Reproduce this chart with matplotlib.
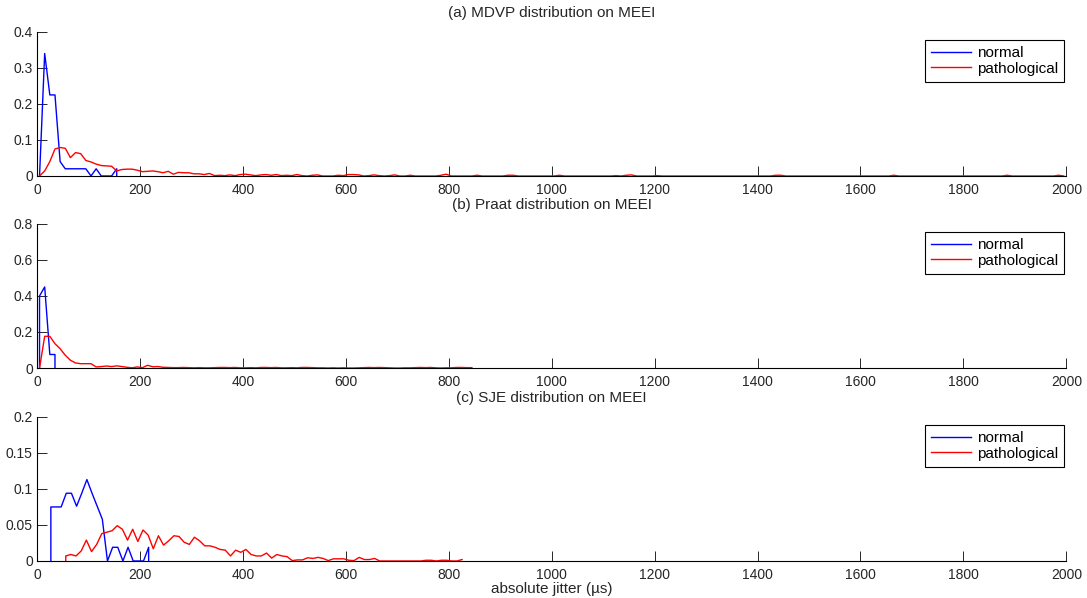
import numpy as np
import matplotlib.pyplot as plt

plt.rcParams['font.family'] = ['Liberation Sans', 'DejaVu Sans']
plt.rcParams['font.size'] = 10

# (a) MDVP - histogram bins of 10 us, centres at 5, 15, ...
mdvp_normal_x = [5, 15, 25, 35, 45, 55, 65, 75, 85, 95, 105, 115, 125, 135, 145, 155, 155]
mdvp_normal_y = [0, 0.34, 0.225, 0.225, 0.04, 0.02, 0.02, 0.02, 0.02, 0.02,
                 0, 0.02, 0, 0, 0, 0.02, 0]
mdvp_path_y = [
    0, 0.014, 0.04, 0.075, 0.079, 0.077, 0.051, 0.065, 0.062, 0.043,
    0.039, 0.033, 0.029, 0.028, 0.027, 0.014, 0.018, 0.019, 0.019, 0.016,
    0.012, 0.013, 0.014, 0.012, 0.009, 0.013, 0.005, 0.010, 0.009, 0.009,
    0.006, 0.006, 0.004, 0.007, 0.001, 0.002, 0.001, 0.003, 0.001, 0.004,
    0.005, 0.003, 0.001, 0.003, 0.004, 0.002, 0.004, 0.001, 0.002, 0.001,
    0.004, 0.001, 0, 0.002, 0.003, 0, 0, 0, 0.002, 0.001,
    0.004, 0.004, 0.003, 0, 0.001, 0.003, 0.001, 0, 0.001, 0.003,
    0, 0, 0.002, 0, 0, 0, 0, 0, 0.002, 0.005,
    0, 0, 0, 0, 0, 0.002, 0, 0, 0, 0,
    0, 0.002, 0.002, 0, 0, 0, 0, 0, 0, 0,
    0, 0.002, 0, 0, 0, 0, 0, 0, 0, 0,
    0, 0, 0.001, 0, 0.002, 0.003, 0, 0, 0, 0,
    0.001, 0, 0, 0, 0, 0, 0, 0, 0, 0,
    0, 0, 0, 0, 0, 0, 0, 0, 0, 0,
    0, 0, 0, 0.002, 0.002, 0, 0, 0, 0, 0,
    0, 0, 0, 0, 0, 0, 0, 0, 0, 0,
    0, 0, 0, 0, 0, 0, 0.002, 0, 0, 0,
    0, 0, 0, 0, 0, 0, 0, 0, 0, 0,
    0, 0, 0, 0, 0, 0, 0, 0, 0.002, 0,
    0, 0, 0, 0, 0, 0, 0, 0, 0.002, 0,
]
mdvp_path_x = np.arange(len(mdvp_path_y)) * 10 + 5

# (b) Praat
praat_normal_x = [5, 5, 15, 25, 35, 35]
praat_normal_y = [0, 0.40, 0.45, 0.075, 0.075, 0]
praat_path_y = [
    0, 0.176, 0.176, 0.135, 0.107, 0.071, 0.043, 0.028, 0.024, 0.024,
    0.024, 0.006, 0.008, 0.011, 0.008, 0.012, 0.008, 0.004, 0.001, 0.006,
    0.002, 0.015, 0.007, 0.008, 0.004, 0.003, 0.002, 0.002, 0.003, 0.002,
    0.001, 0.002, 0.001, 0.001, 0.002, 0.003, 0.003, 0.002, 0.003, 0.001,
    0.001, 0.002, 0.001, 0.003, 0.003, 0.002, 0.003, 0.001, 0.001, 0.002,
    0.001, 0.003, 0.003, 0.002, 0.001, 0.001, 0, 0.001, 0, 0.001,
    0, 0, 0.001, 0.002, 0.003, 0.002, 0.003, 0.002, 0.001, 0,
    0, 0.001, 0.001, 0.002, 0.003, 0.002, 0.003, 0.001, 0, 0.001,
    0.001, 0.003, 0.003, 0.002, 0.002,
]
praat_path_x = np.arange(len(praat_path_y)) * 10 + 5

# (c) SJE
sje_normal_x = [27, 27, 37, 47, 57, 67, 77, 87, 97, 107, 117, 127, 137, 147, 157,
                167, 177, 187, 197, 207, 217, 217]
sje_normal_y = [0, 0.075, 0.075, 0.075, 0.094, 0.094, 0.076, 0.094, 0.113, 0.094,
                0.076, 0.058, 0, 0.019, 0.019, 0, 0.019, 0, 0, 0, 0.019, 0]
sje_path_y = [
    0.007, 0.009, 0.007, 0.014, 0.029, 0.013, 0.023, 0.038, 0.040, 0.042,
    0.049, 0.044, 0.029, 0.044, 0.027, 0.043, 0.036, 0.017, 0.035, 0.022,
    0.028, 0.035, 0.034, 0.026, 0.023, 0.033, 0.028, 0.021, 0.021, 0.019,
    0.016, 0.015, 0.007, 0.015, 0.012, 0.016, 0.009, 0.007, 0.007, 0.011,
    0.004, 0.009, 0.007, 0.006, 0.0005, 0.0015, 0.0015, 0.0045, 0.0035, 0.005,
    0.0035, 0.0005, 0.003, 0.003, 0.003, 0.001, 0.0005, 0.005, 0.002, 0.002,
    0.0035, 0, 0, 0, 0, 0, 0, 0, 0, 0,
    0.001, 0.001, 0, 0.001, 0.001, 0, 0, 0.002,
]
sje_path_x = np.concatenate([[56], np.arange(len(sje_path_y)) * 10 + 56])
sje_path_y = [0] + sje_path_y

panels = [
    ('(a) MDVP distribution on MEEI', mdvp_normal_x, mdvp_normal_y,
     mdvp_path_x, mdvp_path_y, np.arange(0, 0.41, 0.1), ['0', '0.1', '0.2', '0.3', '0.4']),
    ('(b) Praat distribution on MEEI', praat_normal_x, praat_normal_y,
     praat_path_x, praat_path_y, np.arange(0, 0.81, 0.2), ['0', '0.2', '0.4', '0.6', '0.8']),
    ('(c) SJE distribution on MEEI', sje_normal_x, sje_normal_y,
     sje_path_x, sje_path_y, np.arange(0, 0.201, 0.05), ['0', '0.05', '0.1', '0.15', '0.2']),
]

fig = plt.figure(figsize=(10.87, 5.98), dpi=100)
bottoms = [0.7057, 0.3846, 0.0619]
for (title, nx, ny, px, py, yt, ytl), b in zip(panels, bottoms):
    ax = fig.add_axes([0.034, b, 0.947, 0.241])
    ax.plot(nx, ny, color=(0, 0, 1), lw=1.0, label='normal')
    ax.plot(px, py, color=(1, 0, 0), lw=1.0, label='pathological')
    ax.set_xlim(0, 2000)
    ax.set_ylim(yt[0], yt[-1])
    ax.set_xticks(np.arange(0, 2001, 200))
    ax.set_yticks(yt)
    ax.set_yticklabels(ytl)
    ax.spines['top'].set_visible(False)
    ax.spines['right'].set_visible(False)
    for s in ('left', 'bottom'):
        ax.spines[s].set_linewidth(0.8)
    ax.tick_params(direction='in', length=7, width=0.7, labelsize=10,
                   colors='#262626')
    ax.tick_params(axis='x', pad=5)
    ax.tick_params(axis='y', pad=3)
    ax.set_title(title, fontsize=11, pad=11, color='#262626')
    leg = ax.legend(loc='upper right', bbox_to_anchor=(0.998, 0.945), fontsize=11,
                    fancybox=False, edgecolor='black', framealpha=1,
                    handlelength=2.6, borderpad=0.4, labelspacing=0.12,
                    handletextpad=0.4, borderaxespad=0)
    leg.get_frame().set_linewidth(0.8)

ax.set_xlabel('absolute jitter (µs)', fontsize=11, labelpad=0, color='#262626')

fig.savefig('out.png', dpi=100)
